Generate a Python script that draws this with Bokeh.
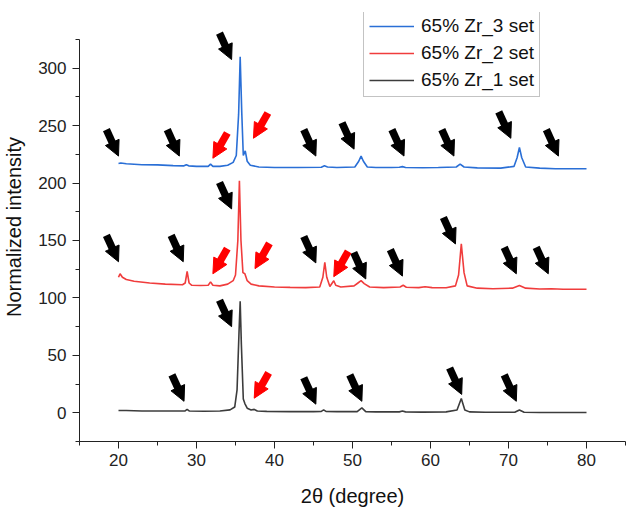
from bokeh.plotting import figure
from bokeh.models import (Range1d, FixedTicker, Legend, LegendItem, Arrow,
                          NormalHead, ColumnDataSource)
from bokeh.embed import file_html
from bokeh.resources import INLINE

# ---------------- data ----------------
series_names = ["65% Zr_3 set", "65% Zr_2 set", "65% Zr_1 set"]

x_set3 = [20, 20.3, 21, 23, 25, 27, 28.4, 28.7, 29.0, 30,
          31.5, 31.8, 32.1, 33, 34, 34.7, 35.1, 35.4, 35.6, 35.8,
          36.0, 36.25, 36.5, 36.9, 38, 40, 43, 46.0, 46.4, 46.8,
          48, 50.3, 50.8, 51.1, 51.4, 51.9, 53, 55, 56.0, 56.4,
          56.8, 59, 61, 63.3, 63.8, 64.3, 66, 69, 70.7, 71.1,
          71.4, 71.7, 72.2, 74, 76, 78, 80]
y_set3 = [217, 217.5, 216.8, 216, 215.8, 215.2, 215, 216, 215, 214.5,
          214.5, 216.5, 214.5, 214.5, 215.5, 218, 224, 260, 310, 262,
          224, 228, 219, 215.5, 214, 213.5, 213.5, 213.8, 215, 214,
          213.5, 214, 219, 223.5, 219, 214, 213.5, 213.5, 213.8, 214.3,
          213.5, 213.3, 213.5, 214, 216.5, 214, 213.2, 213, 214.5, 222,
          231, 222, 214, 213, 212.5, 212.5, 212.5]

x_set2 = [20, 20.2, 20.5, 21, 22, 24, 26, 28.2, 28.55, 28.8,
          29.05, 29.4, 30.5, 31.5, 31.8, 32.1, 33, 34, 34.7, 35.0,
          35.3, 35.5, 35.7, 35.95, 36.2, 36.5, 37, 38, 40, 42,
          44, 45.8, 46.2, 46.45, 46.7, 47.1, 47.4, 47.6, 47.85, 48.5,
          50.2, 50.7, 51.1, 51.5, 52.2, 54, 56.1, 56.5, 56.9, 58.5,
          59.3, 60.2, 62, 63.2, 63.6, 63.95, 64.3, 64.7, 66, 68,
          70.5, 71.4, 72.2, 74, 75.5, 77, 80]
y_set2 = [118, 121, 118, 116, 114.5, 113, 112, 111.5, 113, 123,
          113, 111, 110.8, 111, 114, 111, 110.5, 112, 115, 120,
          150, 202, 150, 122, 121, 115, 112, 110.5, 109.5, 109.2,
          109, 109.5, 118, 131, 118, 110, 113, 115, 111, 109.5,
          110.5, 113, 115, 112.5, 109.5, 109, 109.5, 111, 109.3, 109,
          109.8, 109, 108.8, 110.5, 120, 147, 122, 110.5, 108.5, 108,
          108.5, 110.8, 108.5, 107.8, 108, 107.5, 107.5]

x_set1 = [20, 21, 23, 25, 27, 28.5, 28.8, 29.1, 31, 33,
          34.3, 34.9, 35.2, 35.45, 35.6, 35.75, 36.0, 36.2, 36.5, 37,
          37.4, 37.8, 39, 42, 45, 46.0, 46.3, 46.6, 48, 50.6,
          51.2, 51.7, 53, 56.0, 56.4, 56.8, 59, 62, 63.4, 63.95,
          64.4, 65, 67, 70.8, 71.4, 72, 74, 77, 80]
y_set1 = [2, 2, 1.5, 1.5, 1.5, 1.5, 3, 1.5, 1.3, 1.5,
          2.5, 5, 20, 70, 97, 60, 12, 8, 4, 2.5,
          3, 1.5, 1.2, 1, 1, 1.2, 2.5, 1.2, 1, 1,
          4.3, 1, 0.8, 0.8, 1.5, 0.8, 0.6, 0.8, 2.5, 12.5,
          2.5, 0.8, 0.5, 0.5, 2.5, 0.5, 0.3, 0.2, 0.2]

# arrow tips (data units)
black_tip_x = [20.0, 27.8, 34.5, 45.3, 50.2, 56.6, 63.0, 70.3, 76.4,
               20.0, 28.3, 34.5, 45.3, 51.7, 56.4, 63.2, 71.0, 75.1,
               34.5, 28.4, 45.3, 51.2, 64.0, 71.0]
black_tip_y = [223.5, 223.5, 307.5, 223.5, 229.5, 223.5, 223.5, 239, 223.5,
               131.5, 131.5, 177.5, 130.5, 116.5, 119, 147, 121, 121,
               75, 10, 7.5, 10, 16, 10]
red_tip_x = [32.1, 37.3, 32.1, 37.5, 47.6, 37.4]
red_tip_y = [221.6, 239, 121, 125.5, 118.5, 12.7]

x_major_ticks = [20, 30, 40, 50, 60, 70, 80]
x_minor_ticks = [15, 25, 35, 45, 55, 65, 75, 85]
y_major_ticks = [0, 50, 100, 150, 200, 250, 300]
y_minor_ticks = [-25, 25, 75, 125, 175, 225, 275, 325]
y_axis_span = (-25, 325)

# ---------------- style ----------------
FONT = "Liberation Sans"
colors = ["#2A6FD6", "#F03C3C", "#3C3C3C"]
BLACK_OFF = (-1.55, 23.0)
RED_OFF = (1.85, 22.0)

p = figure(width=636, height=513, output_backend="svg", toolbar_location=None,
           x_range=Range1d(15, 85), y_range=Range1d(-25, 348.5),
           min_border_left=78, min_border_right=11, min_border_top=12,
           min_border_bottom=72)
p.xgrid.visible = False
p.ygrid.visible = False
p.outline_line_color = None
p.background_fill_color = "white"

p.xaxis.ticker = FixedTicker(ticks=x_major_ticks, minor_ticks=x_minor_ticks)
p.yaxis.ticker = FixedTicker(ticks=y_major_ticks, minor_ticks=y_minor_ticks)
p.yaxis.bounds = y_axis_span
for ax in (p.xaxis[0], p.yaxis[0]):
    ax.major_tick_in = 0
    ax.major_tick_out = 7
    ax.minor_tick_in = 0
    ax.minor_tick_out = 4
    ax.axis_line_color = "#222222"
    ax.major_tick_line_color = "#222222"
    ax.minor_tick_line_color = "#222222"
    ax.major_label_text_font = FONT
    ax.major_label_text_font_size = "17px"
    ax.major_label_text_color = "#222222"
    ax.axis_label_text_font = FONT
    ax.axis_label_text_font_size = "20px"
    ax.axis_label_text_font_style = "normal"
    ax.axis_label_text_color = "#111111"
p.xaxis.axis_label = "2θ (degree)"
p.yaxis.axis_label = "Normalized intensity"
p.xaxis.axis_label_standoff = 16
p.yaxis.axis_label_standoff = 10
p.xaxis.major_label_standoff = 5
p.yaxis.major_label_standoff = 6

xs = [x_set3, x_set2, x_set1]
ys = [y_set3, y_set2, y_set1]
renderers = []
for xv, yv, c in zip(xs, ys, colors):
    renderers.append(p.line(xv, yv, line_color=c, line_width=1.6))

def add_arrows(tx, ty, off, color):
    sx = [x + off[0] for x in tx]
    sy = [y + off[1] for y in ty]
    ex = [a + 0.55 * (b - a) for a, b in zip(sx, tx)]
    ey = [a + 0.55 * (b - a) for a, b in zip(sy, ty)]
    p.segment(sx, sy, ex, ey, line_color=color, line_width=7.5, line_cap="butt")
    src = ColumnDataSource(dict(x0=ex, y0=ey, x1=tx, y1=ty))
    p.add_layout(Arrow(end=NormalHead(size=15, fill_color=color, line_color=color, line_width=1),
                       x_start="x0", y_start="y0", x_end="x1", y_end="y1",
                       source=src, line_alpha=0))

add_arrows(black_tip_x, black_tip_y, BLACK_OFF, "#000000")
add_arrows(red_tip_x, red_tip_y, RED_OFF, "#FF0000")

legend = Legend(items=[LegendItem(label=n, renderers=[r]) for n, r in zip(series_names, renderers)],
                location=(284, 344))
legend.label_text_font = FONT
legend.label_text_font_size = "19px"
legend.label_text_color = "#111111"
legend.border_line_color = "#888888"
legend.border_line_width = 1
legend.glyph_width = 45
legend.glyph_height = 20
legend.label_height = 20
legend.label_standoff = 7
legend.spacing = 5
legend.padding = 5
legend.margin = 0
legend.background_fill_alpha = 1
p.add_layout(legend)

open("out.html", "w").write(file_html(p, INLINE))
